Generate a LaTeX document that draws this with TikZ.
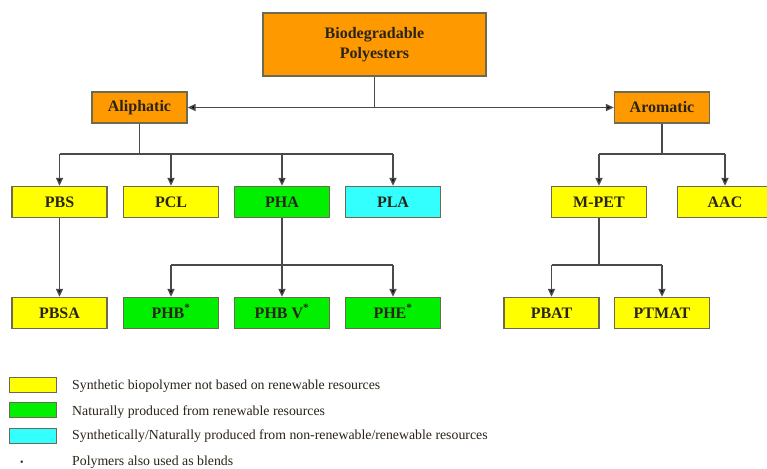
\documentclass[tikz,border=0pt]{standalone}
\usepackage{fontspec}
\setmainfont{Liberation Serif}
\usetikzlibrary{arrows.meta}
\definecolor{orng}{HTML}{FF9900}
\definecolor{yel}{HTML}{FFFF00}
\definecolor{grn}{HTML}{00F000}
\definecolor{cyn}{HTML}{33FFFF}
\definecolor{edge}{HTML}{6E6A50}
\definecolor{wire}{HTML}{4A4A4A}
\definecolor{txt}{HTML}{2A2418}
\tikzset{
  box/.style={draw=edge, line width=1.3pt, minimum width=95pt, minimum height=31pt, inner sep=0pt, text=txt, font=\fontsize{16}{18}\selectfont\bfseries},
  obox/.style={box, fill=orng},
  ybox/.style={box, fill=yel},
  gbox/.style={box, fill=grn},
  cbox/.style={box, fill=cyn},
  wireline/.style={draw=wire, line width=1.5pt},
  arr/.style={wireline, -{Triangle[length=8pt,width=7pt,fill=black]}},
  biarr/.style={wireline, {Triangle[length=8pt,width=7pt,fill=black]}-{Triangle[length=8pt,width=7pt,fill=black]}},
  swatch/.style={draw=edge, line width=1pt, minimum width=47pt, minimum height=15pt, inner sep=0pt},
  legtext/.style={anchor=west, inner sep=0pt, text=txt, font=\fontsize{13.8}{16}\selectfont}
}
\newcommand{\blendmark}{\smash{\textsuperscript{*}}}
\begin{document}
\begin{tikzpicture}[x=1pt,y=-1pt]
\useasboundingbox[fill=white] (0,0) rectangle (767,468);
% top
\node[obox, minimum width=223pt, minimum height=63pt, align=center, font=\fontsize{16}{20}\selectfont\bfseries] (root) at (374.5,44.5) {Biodegradable\\Polyesters};
\node[obox] (ali) at (139.5,107.5) {Aliphatic};
\node[obox] (aro) at (662,107.5) {Aromatic};
% row 2
\node[ybox] (pbs) at (59.5,202) {PBS};
\node[ybox] (pcl) at (171,202) {PCL};
\node[gbox] (pha) at (282,202) {PHA};
\node[cbox] (pla) at (393,202) {PLA};
\node[ybox] (mpet) at (599,202) {M-PET};
\node[ybox] (aac) at (725,202) {AAC};
% row 3
\node[ybox] (pbsa) at (59.5,313) {PBSA};
\node[gbox] (phb) at (171,313) {PHB\blendmark};
\node[gbox] (phbv) at (282,313) {PHB V\blendmark};
\node[gbox] (phe) at (393,313) {PHE\blendmark};
\node[ybox] (pbat) at (551.5,313) {PBAT};
\node[ybox] (ptmat) at (662,313) {PTMAT};
% connectors
\draw[biarr] (ali.east) -- (aro.west);
\draw[wireline] (root.south) -- (root.south |- ali.east);
\coordinate (aj) at (139.5,154);
\coordinate (rj) at (662,154);
\coordinate (hj) at (282,265);
\coordinate (mj) at (599,265);
\draw[wireline] (ali.south) -- (aj);
\draw[wireline] (pbs.north |- aj) -- (pla.north |- aj);
\foreach \t in {pbs,pcl,pha,pla}{\draw[arr] (\t.north |- aj) -- (\t.north);}
\draw[wireline] (aro.south) -- (rj);
\draw[wireline] (mpet.north |- rj) -- (aac.north |- rj);
\foreach \t in {mpet,aac}{\draw[arr] (\t.north |- rj) -- (\t.north);}
\draw[arr] (pbs.south) -- (pbsa.north);
\draw[arr] (pha.south) -- (phbv.north);
\draw[wireline] (phb.north |- hj) -- (phe.north |- hj);
\draw[arr] (phb.north |- hj) -- (phb.north);
\draw[arr] (phe.north |- hj) -- (phe.north);
\draw[wireline] (mpet.south) -- (mj);
\draw[wireline] (pbat.north |- mj) -- (ptmat.north |- mj);
\draw[arr] (pbat.north |- mj) -- (pbat.north);
\draw[arr] (ptmat.north |- mj) -- (ptmat.north);
% legend
\node[swatch, fill=yel] (sy) at (32.5,384.5) {};
\node[swatch, fill=grn] (sg) at (32.5,410) {};
\node[swatch, fill=cyn] (sc) at (32.5,436) {};
\node[legtext] (ly) at (72,386) {Synthetic biopolymer not based on renewable resources};
\node[legtext] (lg) at (72,412) {Naturally produced from renewable resources};
\node[legtext] (lc) at (72,436) {Synthetically/Naturally produced from non-renewable/renewable resources};
\node[inner sep=0pt, text=txt, font=\fontsize{10}{12}\selectfont] (bl) at (22,463) {•};
\node[legtext] (lb) at (72,462) {Polymers also used as blends};
\end{tikzpicture}
\end{document}
